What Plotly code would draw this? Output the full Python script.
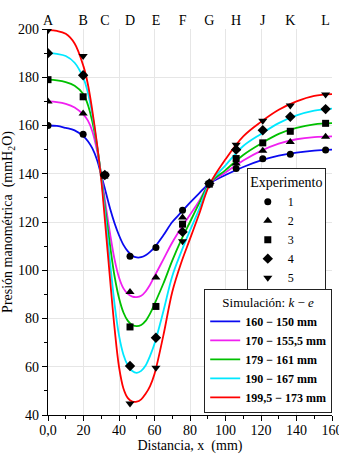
import plotly.graph_objects as go

# ---------------- data ----------------
# simulation curves (k - e), sampled along x (mm)
sim_x = [0, 5, 10, 15, 20, 22.5, 25, 27.5, 30, 32.5, 35, 37.5, 40, 42.5, 45, 47.5, 50,
         52.5, 55, 57.5, 60, 65, 70, 75, 80, 85, 91, 100, 110, 120, 130, 140, 150, 160]
sim_160 = [160, 159.8, 159, 158, 155.5, 153.5, 150.5, 146, 139.5, 132.5, 125.5, 119.5, 114.5,
           110.5, 107.8, 106, 105.3, 105.4, 106.2, 107.6, 109.5, 114.5, 120, 124, 128, 131.8,
           136, 139.5, 142.8, 145.5, 147.5, 148.8, 149.6, 150]
sim_170 = [170, 169.7, 169, 167.5, 164.5, 162, 157.5, 150, 139.5, 127, 115, 104.5, 97,
           92.5, 90.2, 89.1, 88.9, 89.4, 91.2, 94, 97.5, 104.5, 111.5, 117.5, 123, 128.5,
           136, 140.5, 145.5, 149.5, 152.5, 154.3, 155.2, 155.5]
sim_179 = [179, 178.7, 178, 176.5, 173, 168.5, 161.5, 152, 139, 124, 110, 97.5, 88.5,
           82.5, 79, 77.3, 76.8, 77.3, 79, 82, 86, 94.5, 104, 112.5, 120, 127.5,
           136, 141.5, 147.8, 152.5, 156.5, 159, 160.5, 161]
sim_190 = [190, 189.7, 188.8, 186, 179.5, 173.5, 164.5, 152.5, 138.5, 121, 103, 86, 73,
           65, 60.5, 58.2, 57.5, 58.3, 60.5, 64.5, 69.5, 83, 97.5, 107.5, 116.5, 125,
           136, 143.5, 151.5, 156.5, 161, 164.2, 166.2, 167]
sim_200 = [199.5, 199.2, 198, 194, 184.5, 177, 166, 153, 137.5, 117, 96, 76, 60,
           51, 47, 45.6, 45.5, 46.5, 48.8, 52, 57, 73, 91, 103, 113, 123,
           135.5, 146, 155.5, 161.5, 166.5, 170, 172.3, 173]
sim_names = ["160 \u2212 150 mm", "170 \u2212 155,5 mm", "179 \u2212 161 mm",
             "190 \u2212 167 mm", "199,5 \u2212 173 mm"]

# experimental points at measuring stations A..L
station_letters = ["A", "B", "C", "D", "E", "F", "G", "H", "J", "K", "L"]
exp_x = [0, 19.8, 32, 46.2, 60.8, 75.8, 90.9, 106, 121, 136.5, 156.4]
exp_1 = [160, 156.4, 139.5, 105.8, 109.4, 124.9, 136, 142.2, 146.2, 148.1, 149.8]
exp_2 = [170, 165, 139.5, 91, 97, 121.9, 136, 144.3, 149.5, 153.2, 155.3]
exp_3 = [179, 171.9, 139.4, 76.5, 85, 119.1, 135.7, 146.3, 152.8, 157.6, 160.9]
exp_4 = [190, 180.8, 139.5, 60.3, 72, 115.9, 136, 150, 158, 163.6, 166.8]
exp_5 = [199.5, 188.8, 139.5, 44.8, 59.6, 112, 136, 152, 162, 168.3, 172.9]
exp_names = ["1", "2", "3", "4", "5"]

x_ticks = [0, 20, 40, 60, 80, 100, 120, 140, 160]
x_ticktext = ["0,0", "20", "40", "60", "80", "100", "120", "140", "160"]

# ---------------- styles ----------------
line_colors = ["#0a0af0", "#f020f0", "#00c000", "#00e8ff", "#ff0000"]
symbols = ["circle", "triangle-up", "square", "diamond", "triangle-down"]
msizes = [7, 8, 7, 8, 8]
FONT = "Liberation Serif, Times New Roman, serif"

fig = go.Figure()

for ys, name, col in zip([sim_160, sim_170, sim_179, sim_190, sim_200], sim_names, line_colors):
    fig.add_trace(go.Scatter(x=sim_x, y=ys, mode="lines", name=name,
                             line=dict(color=col, width=1.8, shape="spline", smoothing=1.0),
                             legend="legend2"))

for ys, name, sym, ms in zip([exp_1, exp_2, exp_3, exp_4, exp_5], exp_names, symbols, msizes):
    fig.add_trace(go.Scatter(x=exp_x, y=ys, mode="markers", name=name,
                             marker=dict(symbol=sym, size=ms, color="black"),
                             legend="legend"))

# invisible trace that anchors the top letter axis
fig.add_trace(go.Scatter(x=exp_x, y=exp_1, xaxis="x2", mode="markers",
                         marker=dict(opacity=0), showlegend=False, hoverinfo="skip"))

fig.update_layout(
    width=339, height=465,
    margin=dict(l=48, r=7, t=29, b=50),
    paper_bgcolor="white", plot_bgcolor="white",
    font=dict(family=FONT, size=14, color="black"),
    xaxis=dict(range=[0, 160], tickvals=x_ticks, ticktext=x_ticktext, automargin="bottom",
               showline=True, linecolor="black", linewidth=1.2,
               ticks="outside", ticklen=5, tickcolor="black", ticklabelstandoff=-3,
               ticklabeloverflow="allow",
               minor=dict(dtick=10, tick0=0, ticks="outside", ticklen=3, tickcolor="black",
                          showgrid=False),
               showgrid=True, gridcolor="#e6e6e6", gridwidth=1, zeroline=False,
               tickfont=dict(size=14),
               title=dict(text="Distancia, x  (mm)", font=dict(size=14), standoff=0)),
    xaxis2=dict(overlaying="x", side="top", range=[0, 160], tickvals=exp_x, automargin=False,
                ticktext=station_letters, showgrid=False, showline=False, ticks="",
                ticklabeloverflow="allow",
                zeroline=False, tickfont=dict(size=14)),
    yaxis=dict(range=[40, 200], dtick=20, tick0=40, automargin=False,
               showline=True, linecolor="black", linewidth=1.2,
               ticks="outside", ticklen=5, tickcolor="black", ticklabeloverflow="allow",
               minor=dict(dtick=10, tick0=0, ticks="outside", ticklen=3, tickcolor="black",
                          showgrid=False),
               showgrid=True, gridcolor="#e6e6e6", gridwidth=1, zeroline=False,
               tickfont=dict(size=14),
               title=dict(text="Presión manométrica  (mmH<sub>2</sub>O)",
                          font=dict(size=14))),
    legend=dict(x=0.70, y=0.64, xanchor="left", yanchor="top",
                bgcolor="white", bordercolor="#222", borderwidth=1,
                font=dict(size=12), itemwidth=30, tracegroupgap=0,
                title=dict(text="Experimento", side="top center", font=dict(size=14))),
    legend2=dict(x=0.55, y=0.005, xanchor="left", yanchor="bottom",
                 bgcolor="white", bordercolor="#222", borderwidth=1,
                 font=dict(size=12, weight="bold"), itemwidth=30, tracegroupgap=0,
                 title=dict(text="Simulación: <i>k</i> \u2212 <i>e</i>", side="top center",
                            font=dict(size=13, weight="normal"))),
    showlegend=True,
)

fig.write_html("out.html", config={"displayModeBar": False},
               post_script="document.body.style.margin='0';document.body.style.overflow='hidden';")
